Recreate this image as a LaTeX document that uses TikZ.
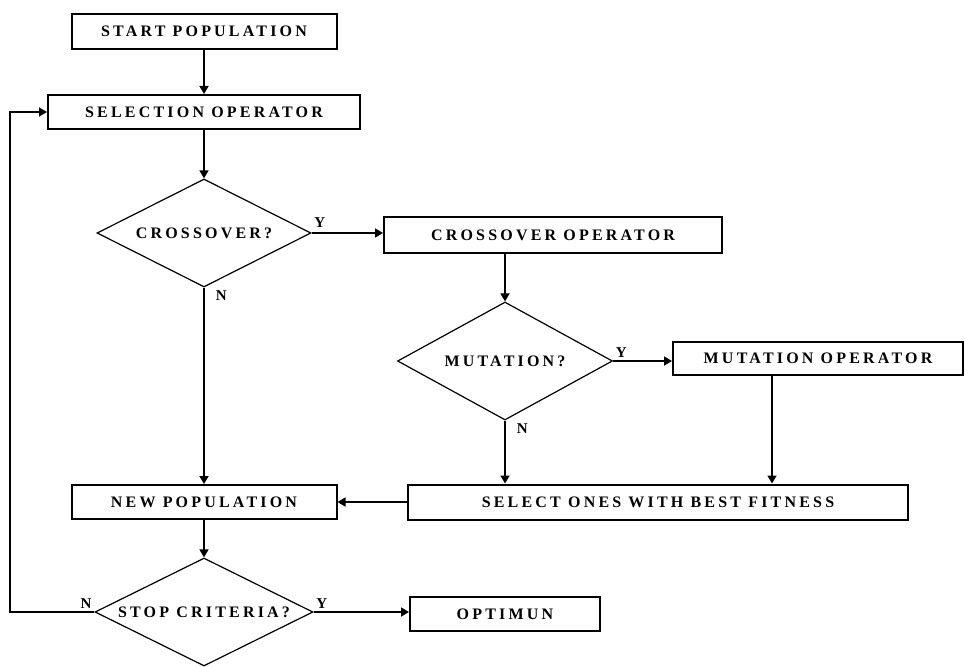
\documentclass[tikz,border=0pt]{standalone}
\usepackage{fontspec}
\setmainfont{Liberation Serif}
\newfontfamily\chartfont[LetterSpace=20]{Liberation Serif}
\usetikzlibrary{shapes.geometric,arrows.meta}

\tikzset{
  box/.style={draw, line width=2pt, inner sep=0pt,
    font=\chartfont\bfseries\fontsize{16}{18}\selectfont},
  decision/.style={draw, diamond, aspect=2, line width=1.2pt, inner sep=0pt,
    font=\chartfont\bfseries\fontsize{16}{18}\selectfont},
  yn/.style={font=\bfseries\fontsize{15}{17}\selectfont, inner sep=2pt},
}

\begin{document}
\begin{tikzpicture}[x=1pt, y=-1pt, line width=1.7pt, >={Triangle[length=8pt,width=9pt]}]
    \useasboundingbox (0,0) rectangle (965,666);
    % process boxes
    \node[box, minimum width=265pt, minimum height=35pt] (start) at (204,31.5) {START POPULATION};
    \node[box, minimum width=312pt, minimum height=34pt] (sel) at (204,112) {SELECTION OPERATOR};
    \node[box, minimum width=338pt, minimum height=36pt] (crossop) at (553,235) {CROSSOVER OPERATOR};
    \node[box, minimum width=290pt, minimum height=33pt] (mutop) at (818,358.5) {MUTATION OPERATOR};
    \node[box, minimum width=265pt, minimum height=34pt] (newpop) at (204,502) {NEW POPULATION};
    \node[box, minimum width=500pt, minimum height=35pt] (best) at (658,502) {SELECT ONES WITH BEST FITNESS};
    \node[box, minimum width=190pt, minimum height=34pt] (opt) at (505,614) {OPTIMUN};
    % decisions
    \node[decision, minimum width=214pt, minimum height=108pt] (cross) at (204,233) {CROSSOVER?};
    \node[decision, minimum width=215pt, minimum height=118pt] (mut) at (505,361) {MUTATION?};
    \node[decision, minimum width=218pt, minimum height=108pt] (stop) at (204,612) {STOP CRITERIA?};
    \coordinate (loop) at (10,612);
    % connectors
    \draw[->] (start) -- (sel);
    \draw[->] (sel) -- (cross);
    \draw[->] (cross.east) node[yn, anchor=south west, yshift=3pt] (ycross) {Y} -- (cross.east -| crossop.west);
    \draw[->] (cross.south) node[yn, anchor=north west, xshift=9pt] (ncross) {N} -- (newpop.north);
    \draw[->] (crossop.south -| mut.north) -- (mut.north);
    \draw[->] (mut.east) node[yn, anchor=south west, yshift=1pt] (ymut) {Y} -- (mut.east -| mutop.west);
    \draw[->] (mut.south) node[yn, anchor=north west, xshift=9pt] (nmut) {N} -- (mut.south |- best.north);
    \draw[->] ([xshift=-46pt]mutop.south) -- ([xshift=-46pt]mutop.south |- best.north);
    \draw[->] (best.west) -- (newpop.east);
    \draw[->] (newpop) -- (stop);
    \draw[->] (stop.east) node[yn, anchor=south west, yshift=1pt] (ystop) {Y} -- (stop.east -| opt.west);
    \draw[->] (stop.west) node[yn, anchor=south east, yshift=1pt] (nstop) {N} -- (loop) |- (sel.west);
\end{tikzpicture}
\end{document}
